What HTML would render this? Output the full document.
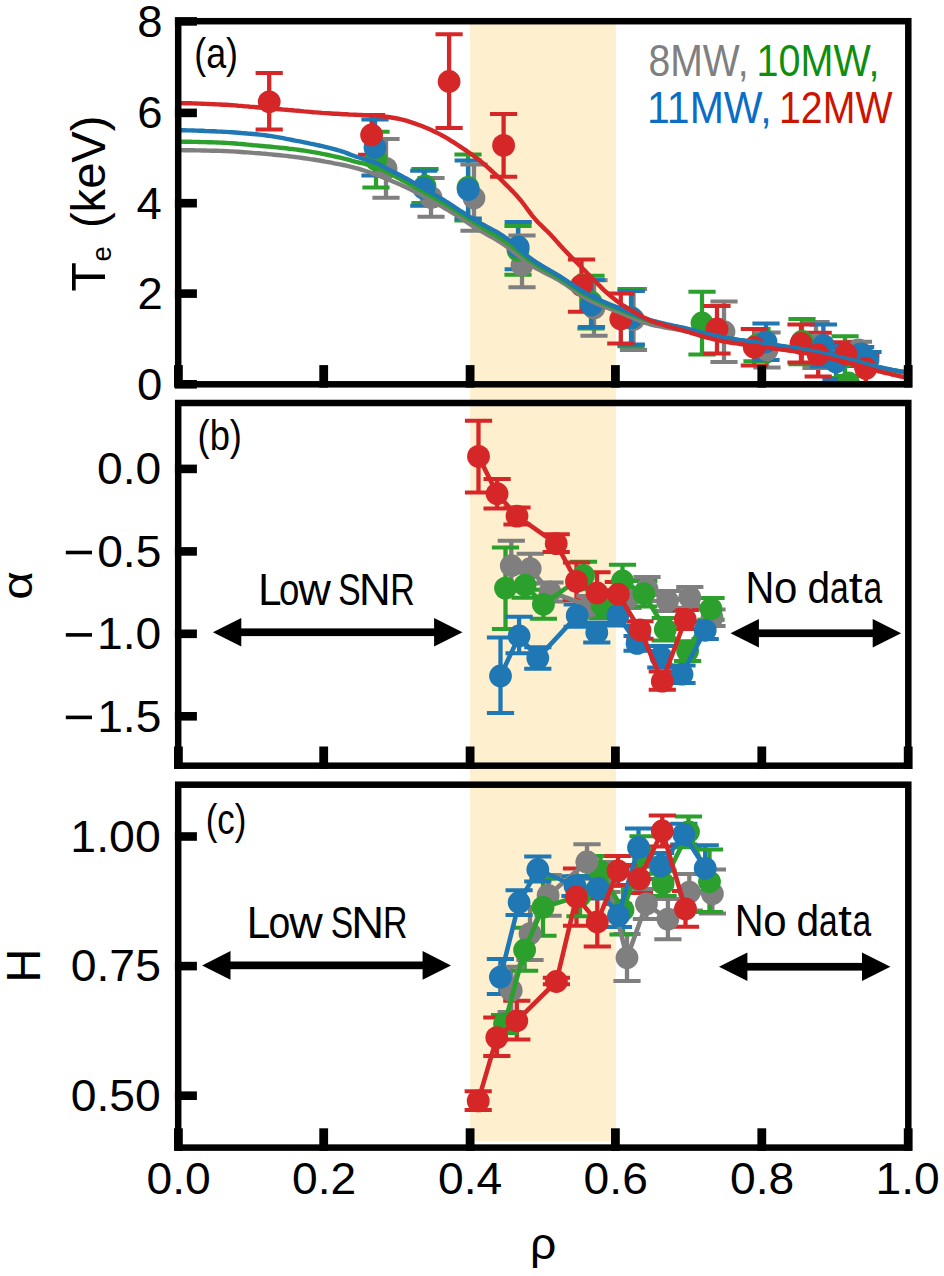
<!DOCTYPE html>
<html><head><meta charset="utf-8"><style>html,body{margin:0;padding:0;background:#fff;}svg{display:block;}</style></head>
<body><svg width="944" height="1276" viewBox="0 0 944 1276">
<rect x="0" y="0" width="944" height="1276" fill="#fff"/>
<rect x="470.1" y="22" width="145.8" height="1119.3" fill="#fef0cf"/>
<defs><clipPath id="cp0"><rect x="178.2" y="21.2" width="730.0999999999999" height="363.1"/></clipPath><clipPath id="cp1"><rect x="178.2" y="403.0" width="730.0999999999999" height="362.70000000000005"/></clipPath><clipPath id="cp2"><rect x="178.2" y="784.7" width="730.0999999999999" height="362.89999999999986"/></clipPath></defs>
<g clip-path="url(#cp0)">
<path d="M386.0 139.0V197.7M431.0 177.9V216.8M474.0 164.5V230.8M522.0 235.4V287.2M594.0 280.3V335.7M633.5 289.0V350.0M724.0 301.4V362.0M767.0 332.4V367.6M816.0 322.0V368.0M858.5 341.7V358.3" stroke="#7f7f7f" stroke-width="4.3" fill="none"/>
<path d="M376.0 131.8V187.4M425.0 169.1V203.0M468.0 154.6V220.4M518.0 225.9V274.8M591.0 275.7V328.5M631.0 289.0V346.3M702.0 291.7V354.4M757.0 329.0V361.3M802.0 319.0V364.2M845.0 336.3V378.0M848.5 376.0V390.0" stroke="#2ca02c" stroke-width="4.3" fill="none"/>
<path d="M375.0 119.4V175.5M423.8 170.7V205.7M468.2 160.4V218.5M518.2 222.1V269.3M591.5 279.9V326.9M631.3 291.0V344.4M766.0 323.6V360.0M823.4 324.6V366.4M836.0 345.0V379.0M860.6 346.9V361.0M868.0 352.0V368.0" stroke="#1f77b4" stroke-width="4.3" fill="none"/>
<path d="M269.2 73.0V129.6M371.6 115.1V154.8M449.1 34.3V128.0M503.6 114.0V176.8M581.5 259.6V311.7M620.8 293.5V343.5M717.0 306.0V353.5M754.3 329.1V365.5M801.0 324.5V362.5M818.2 332.8V376.5M846.0 342.2V366.0M865.8 356.0V384.0" stroke="#d62728" stroke-width="4.3" fill="none"/>
<path d="M372.4 139.0H399.6M372.4 197.7H399.6M417.4 177.9H444.6M417.4 216.8H444.6M460.4 164.5H487.6M460.4 230.8H487.6M508.4 235.4H535.6M508.4 287.2H535.6M580.4 280.3H607.6M580.4 335.7H607.6M619.9 289.0H647.1M619.9 350.0H647.1M710.4 301.4H737.6M710.4 362.0H737.6M753.4 332.4H780.6M753.4 367.6H780.6M802.4 322.0H829.6M802.4 368.0H829.6M844.9 341.7H872.1M844.9 358.3H872.1" stroke="#7f7f7f" stroke-width="4.0" fill="none"/>
<path d="M362.4 131.8H389.6M362.4 187.4H389.6M411.4 169.1H438.6M411.4 203.0H438.6M454.4 154.6H481.6M454.4 220.4H481.6M504.4 225.9H531.6M504.4 274.8H531.6M577.4 275.7H604.6M577.4 328.5H604.6M617.4 289.0H644.6M617.4 346.3H644.6M688.4 291.7H715.6M688.4 354.4H715.6M743.4 329.0H770.6M743.4 361.3H770.6M788.4 319.0H815.6M788.4 364.2H815.6M831.4 336.3H858.6M831.4 378.0H858.6M834.9 376.0H862.1M834.9 390.0H862.1" stroke="#2ca02c" stroke-width="4.0" fill="none"/>
<path d="M361.4 119.4H388.6M361.4 175.5H388.6M410.2 170.7H437.4M410.2 205.7H437.4M454.6 160.4H481.8M454.6 218.5H481.8M504.6 222.1H531.8M504.6 269.3H531.8M577.9 279.9H605.1M577.9 326.9H605.1M617.7 291.0H644.9M617.7 344.4H644.9M752.4 323.6H779.6M752.4 360.0H779.6M809.8 324.6H837.0M809.8 366.4H837.0M822.4 345.0H849.6M822.4 379.0H849.6M847.0 346.9H874.2M847.0 361.0H874.2M854.4 352.0H881.6M854.4 368.0H881.6" stroke="#1f77b4" stroke-width="4.0" fill="none"/>
<path d="M255.6 73.0H282.8M255.6 129.6H282.8M358.0 115.1H385.2M358.0 154.8H385.2M435.5 34.3H462.7M435.5 128.0H462.7M490.0 114.0H517.2M490.0 176.8H517.2M567.9 259.6H595.1M567.9 311.7H595.1M607.2 293.5H634.4M607.2 343.5H634.4M703.4 306.0H730.6M703.4 353.5H730.6M740.7 329.1H767.9M740.7 365.5H767.9M787.4 324.5H814.6M787.4 362.5H814.6M804.6 332.8H831.8M804.6 376.5H831.8M832.4 342.2H859.6M832.4 366.0H859.6M852.2 356.0H879.4M852.2 384.0H879.4" stroke="#d62728" stroke-width="4.0" fill="none"/>
<circle cx="386.0" cy="168.4" r="11.4" fill="#7f7f7f"/>
<circle cx="431.0" cy="197.4" r="11.4" fill="#7f7f7f"/>
<circle cx="474.0" cy="198.0" r="11.4" fill="#7f7f7f"/>
<circle cx="522.0" cy="265.0" r="11.4" fill="#7f7f7f"/>
<circle cx="594.0" cy="308.0" r="11.4" fill="#7f7f7f"/>
<circle cx="633.5" cy="319.5" r="11.4" fill="#7f7f7f"/>
<circle cx="724.0" cy="331.7" r="11.4" fill="#7f7f7f"/>
<circle cx="767.0" cy="350.0" r="11.4" fill="#7f7f7f"/>
<circle cx="816.0" cy="345.0" r="11.4" fill="#7f7f7f"/>
<circle cx="858.5" cy="350.0" r="11.4" fill="#7f7f7f"/>
<circle cx="376.0" cy="159.6" r="11.4" fill="#2ca02c"/>
<circle cx="425.0" cy="186.0" r="11.4" fill="#2ca02c"/>
<circle cx="468.0" cy="187.5" r="11.4" fill="#2ca02c"/>
<circle cx="518.0" cy="250.3" r="11.4" fill="#2ca02c"/>
<circle cx="591.0" cy="302.0" r="11.4" fill="#2ca02c"/>
<circle cx="631.0" cy="317.6" r="11.4" fill="#2ca02c"/>
<circle cx="702.0" cy="323.0" r="11.4" fill="#2ca02c"/>
<circle cx="757.0" cy="345.0" r="11.4" fill="#2ca02c"/>
<circle cx="802.0" cy="341.5" r="11.4" fill="#2ca02c"/>
<circle cx="845.0" cy="357.0" r="11.4" fill="#2ca02c"/>
<circle cx="848.5" cy="383.0" r="11.4" fill="#2ca02c"/>
<circle cx="375.0" cy="147.5" r="11.4" fill="#1f77b4"/>
<circle cx="423.8" cy="188.2" r="11.4" fill="#1f77b4"/>
<circle cx="468.2" cy="189.5" r="11.4" fill="#1f77b4"/>
<circle cx="518.2" cy="247.0" r="11.4" fill="#1f77b4"/>
<circle cx="591.5" cy="305.0" r="11.4" fill="#1f77b4"/>
<circle cx="631.3" cy="317.7" r="11.4" fill="#1f77b4"/>
<circle cx="766.0" cy="341.8" r="11.4" fill="#1f77b4"/>
<circle cx="823.4" cy="345.5" r="11.4" fill="#1f77b4"/>
<circle cx="836.0" cy="362.0" r="11.4" fill="#1f77b4"/>
<circle cx="860.6" cy="353.9" r="11.4" fill="#1f77b4"/>
<circle cx="868.0" cy="360.0" r="11.4" fill="#1f77b4"/>
<circle cx="269.2" cy="101.8" r="11.4" fill="#d62728"/>
<circle cx="371.6" cy="135.0" r="11.4" fill="#d62728"/>
<circle cx="449.1" cy="81.5" r="11.4" fill="#d62728"/>
<circle cx="503.6" cy="145.4" r="11.4" fill="#d62728"/>
<circle cx="581.5" cy="285.5" r="11.4" fill="#d62728"/>
<circle cx="620.8" cy="319.0" r="11.4" fill="#d62728"/>
<circle cx="717.0" cy="329.0" r="11.4" fill="#d62728"/>
<circle cx="754.3" cy="347.3" r="11.4" fill="#d62728"/>
<circle cx="801.0" cy="343.5" r="11.4" fill="#d62728"/>
<circle cx="818.2" cy="354.7" r="11.4" fill="#d62728"/>
<circle cx="846.0" cy="354.0" r="11.4" fill="#d62728"/>
<circle cx="865.8" cy="368.5" r="11.4" fill="#d62728"/>
<g fill="none" stroke-width="4.4" stroke-linejoin="round">
<polyline points="178.2,150.0 181.2,150.1 184.2,150.2 187.2,150.2 190.2,150.3 193.2,150.3 196.2,150.4 199.2,150.4 202.2,150.5 205.2,150.5 208.2,150.6 211.2,150.7 214.2,150.7 217.2,150.8 220.2,150.9 223.2,151.0 226.2,151.1 229.2,151.3 232.2,151.4 235.2,151.6 238.2,151.8 241.2,152.0 244.2,152.2 247.2,152.4 250.2,152.6 253.2,152.9 256.2,153.1 259.2,153.3 262.2,153.6 265.2,153.8 268.2,154.1 271.2,154.4 274.2,154.7 277.2,155.0 280.2,155.3 283.2,155.6 286.2,155.9 289.2,156.3 292.2,156.6 295.2,157.0 298.2,157.4 301.2,157.8 304.2,158.2 307.2,158.6 310.2,159.1 313.2,159.5 316.2,160.0 319.2,160.5 322.2,161.0 325.2,161.6 328.2,162.1 331.2,162.7 334.2,163.3 337.2,163.8 340.2,164.4 343.2,165.0 346.2,165.7 349.2,166.4 352.2,167.1 355.2,167.9 358.2,168.7 361.2,169.6 364.2,170.5 367.2,171.5 370.2,172.5 373.2,173.6 376.2,174.7 379.2,175.9 382.2,177.0 385.2,178.2 388.2,179.5 391.2,180.7 394.2,182.0 397.2,183.3 400.2,184.6 403.2,185.9 406.2,187.3 409.2,188.8 412.2,190.2 415.2,191.8 418.2,193.3 421.2,194.9 424.2,196.5 427.2,198.2 430.2,199.8 433.2,201.5 436.2,203.3 439.2,205.0 442.2,206.7 445.2,208.5 448.2,210.2 451.2,212.0 454.2,213.8 457.2,215.7 460.2,217.7 463.2,219.7 466.2,221.6 469.2,223.6 472.2,225.6 475.2,227.5 478.2,229.4 481.2,231.2 484.2,232.9 487.2,234.6 490.2,236.3 493.2,237.9 496.2,239.7 499.2,241.5 502.2,243.4 505.2,245.5 508.2,247.7 511.2,249.9 514.2,252.2 517.2,254.7 520.2,257.1 523.2,259.5 526.2,261.8 529.2,264.0 532.2,265.9 535.2,267.7 538.2,269.3 541.2,270.9 544.2,272.5 547.2,274.0 550.2,275.5 553.2,277.1 556.2,278.7 559.2,280.4 562.2,282.3 565.2,284.2 568.2,286.3 571.2,288.4 574.2,290.5 577.2,292.6 580.2,294.7 583.2,296.6 586.2,298.4 589.2,300.1 592.2,301.6 595.2,302.9 598.2,304.2 601.2,305.5 604.2,306.6 607.2,307.8 610.2,308.9 613.2,310.0 616.2,311.1 619.2,312.3 622.2,313.5 625.2,314.7 628.2,316.0 631.2,317.3 634.2,318.6 637.2,319.8 640.2,321.0 643.2,322.1 646.2,323.1 649.2,324.0 652.2,324.8 655.2,325.5 658.2,326.1 661.2,326.7 664.2,327.3 667.2,327.8 670.2,328.4 673.2,328.9 676.2,329.4 679.2,329.9 682.2,330.5 685.2,331.0 688.2,331.6 691.2,332.2 694.2,332.8 697.2,333.4 700.2,334.0 703.2,334.6 706.2,335.2 709.2,335.8 712.2,336.3 715.2,336.9 718.2,337.4 721.2,337.9 724.2,338.4 727.2,338.9 730.2,339.3 733.2,339.8 736.2,340.2 739.2,340.6 742.2,341.1 745.2,341.5 748.2,341.9 751.2,342.3 754.2,342.8 757.2,343.2 760.2,343.6 763.2,344.1 766.2,344.5 769.2,344.9 772.2,345.3 775.2,345.7 778.2,346.2 781.2,346.6 784.2,347.0 787.2,347.5 790.2,347.9 793.2,348.4 796.2,348.9 799.2,349.4 802.2,349.9 805.2,350.4 808.2,351.0 811.2,351.6 814.2,352.2 817.2,352.9 820.2,353.5 823.2,354.2 826.2,354.8 829.2,355.5 832.2,356.2 835.2,356.9 838.2,357.6 841.2,358.3 844.2,359.0 847.2,359.7 850.2,360.4 853.2,361.2 856.2,361.9 859.2,362.7 862.2,363.5 865.2,364.3 868.2,365.1 871.2,365.9 874.2,366.7 877.2,367.4 880.2,368.0 883.2,368.7 886.2,369.3 889.2,369.9 892.2,370.5 895.2,371.0 898.2,371.6 901.2,372.1 904.2,372.6 907.2,373.0 908.3,373.2" stroke="#7f7f7f"/>
<polyline points="178.2,141.5 181.2,141.6 184.2,141.7 187.2,141.7 190.2,141.8 193.2,141.9 196.2,141.9 199.2,142.0 202.2,142.1 205.2,142.1 208.2,142.2 211.2,142.3 214.2,142.4 217.2,142.5 220.2,142.6 223.2,142.7 226.2,142.9 229.2,143.1 232.2,143.3 235.2,143.5 238.2,143.8 241.2,144.0 244.2,144.3 247.2,144.6 250.2,144.9 253.2,145.2 256.2,145.4 259.2,145.7 262.2,146.0 265.2,146.3 268.2,146.5 271.2,146.8 274.2,147.1 277.2,147.4 280.2,147.7 283.2,148.0 286.2,148.3 289.2,148.7 292.2,149.0 295.2,149.4 298.2,149.8 301.2,150.2 304.2,150.6 307.2,151.1 310.2,151.6 313.2,152.1 316.2,152.6 319.2,153.2 322.2,153.8 325.2,154.4 328.2,155.0 331.2,155.7 334.2,156.3 337.2,157.0 340.2,157.6 343.2,158.4 346.2,159.1 349.2,159.9 352.2,160.8 355.2,161.6 358.2,162.3 361.2,163.0 364.2,163.7 367.2,164.5 370.2,165.2 373.2,166.1 376.2,167.1 379.2,168.2 382.2,169.5 385.2,171.0 388.2,172.6 391.2,174.2 394.2,175.8 397.2,177.5 400.2,179.1 403.2,180.7 406.2,182.3 409.2,183.9 412.2,185.5 415.2,187.1 418.2,188.8 421.2,190.4 424.2,192.1 427.2,193.8 430.2,195.5 433.2,197.2 436.2,198.9 439.2,200.6 442.2,202.4 445.2,204.2 448.2,205.9 451.2,207.7 454.2,209.6 457.2,211.4 460.2,213.3 463.2,215.2 466.2,217.2 469.2,219.1 472.2,221.0 475.2,223.0 478.2,224.9 481.2,226.7 484.2,228.6 487.2,230.4 490.2,232.1 493.2,233.9 496.2,235.7 499.2,237.5 502.2,239.3 505.2,241.3 508.2,243.3 511.2,245.4 514.2,247.7 517.2,250.2 520.2,252.7 523.2,255.2 526.2,257.7 529.2,259.9 532.2,262.0 535.2,263.9 538.2,265.8 541.2,267.6 544.2,269.3 547.2,271.0 550.2,272.7 553.2,274.4 556.2,276.1 559.2,277.9 562.2,279.8 565.2,281.7 568.2,283.7 571.2,285.7 574.2,287.7 577.2,289.7 580.2,291.7 583.2,293.5 586.2,295.3 589.2,296.9 592.2,298.4 595.2,299.8 598.2,301.1 601.2,302.4 604.2,303.6 607.2,304.8 610.2,306.0 613.2,307.2 616.2,308.3 619.2,309.5 622.2,310.7 625.2,311.9 628.2,313.1 631.2,314.3 634.2,315.5 637.2,316.7 640.2,317.8 643.2,318.8 646.2,319.8 649.2,320.8 652.2,321.6 655.2,322.4 658.2,323.1 661.2,323.9 664.2,324.5 667.2,325.2 670.2,325.8 673.2,326.5 676.2,327.1 679.2,327.7 682.2,328.4 685.2,329.0 688.2,329.7 691.2,330.5 694.2,331.2 697.2,331.9 700.2,332.6 703.2,333.4 706.2,334.1 709.2,334.8 712.2,335.4 715.2,336.1 718.2,336.7 721.2,337.2 724.2,337.7 727.2,338.3 730.2,338.7 733.2,339.2 736.2,339.7 739.2,340.1 742.2,340.5 745.2,341.0 748.2,341.4 751.2,341.8 754.2,342.2 757.2,342.7 760.2,343.1 763.2,343.6 766.2,344.0 769.2,344.4 772.2,344.8 775.2,345.3 778.2,345.7 781.2,346.1 784.2,346.5 787.2,347.0 790.2,347.4 793.2,347.9 796.2,348.4 799.2,348.9 802.2,349.4 805.2,349.9 808.2,350.5 811.2,351.1 814.2,351.7 817.2,352.4 820.2,353.0 823.2,353.7 826.2,354.3 829.2,355.0 832.2,355.7 835.2,356.4 838.2,357.1 841.2,357.8 844.2,358.5 847.2,359.2 850.2,359.9 853.2,360.7 856.2,361.4 859.2,362.2 862.2,363.0 865.2,363.8 868.2,364.6 871.2,365.4 874.2,366.2 877.2,366.9 880.2,367.5 883.2,368.2 886.2,368.8 889.2,369.4 892.2,370.0 895.2,370.5 898.2,371.1 901.2,371.6 904.2,372.1 907.2,372.5 908.3,372.7" stroke="#2ca02c"/>
<polyline points="178.2,130.1 181.2,130.2 184.2,130.3 187.2,130.4 190.2,130.4 193.2,130.5 196.2,130.6 199.2,130.7 202.2,130.8 205.2,131.0 208.2,131.1 211.2,131.2 214.2,131.3 217.2,131.5 220.2,131.6 223.2,131.8 226.2,131.9 229.2,132.1 232.2,132.3 235.2,132.5 238.2,132.7 241.2,133.0 244.2,133.2 247.2,133.5 250.2,133.7 253.2,134.0 256.2,134.3 259.2,134.6 262.2,134.9 265.2,135.3 268.2,135.7 271.2,136.2 274.2,136.7 277.2,137.2 280.2,137.7 283.2,138.2 286.2,138.8 289.2,139.4 292.2,140.0 295.2,140.6 298.2,141.1 301.2,141.7 304.2,142.3 307.2,142.9 310.2,143.6 313.2,144.2 316.2,144.8 319.2,145.5 322.2,146.2 325.2,146.9 328.2,147.6 331.2,148.4 334.2,149.2 337.2,150.0 340.2,150.9 343.2,151.8 346.2,152.9 349.2,154.1 352.2,155.2 355.2,156.3 358.2,157.2 361.2,158.2 364.2,159.0 367.2,159.9 370.2,160.9 373.2,161.9 376.2,163.1 379.2,164.5 382.2,166.0 385.2,167.7 388.2,169.4 391.2,170.9 394.2,172.3 397.2,173.8 400.2,175.3 403.2,176.9 406.2,178.5 409.2,180.2 412.2,181.9 415.2,183.6 418.2,185.4 421.2,187.1 424.2,188.8 427.2,190.5 430.2,192.2 433.2,193.9 436.2,195.7 439.2,197.4 442.2,199.2 445.2,201.0 448.2,202.9 451.2,204.8 454.2,206.8 457.2,208.8 460.2,210.8 463.2,212.7 466.2,214.6 469.2,216.5 472.2,218.4 475.2,220.2 478.2,221.9 481.2,223.7 484.2,225.3 487.2,226.9 490.2,228.5 493.2,230.1 496.2,231.7 499.2,233.5 502.2,235.4 505.2,237.5 508.2,239.6 511.2,241.9 514.2,244.4 517.2,247.1 520.2,249.8 523.2,252.5 526.2,255.0 529.2,257.4 532.2,259.5 535.2,261.6 538.2,263.5 541.2,265.3 544.2,267.1 547.2,268.8 550.2,270.6 553.2,272.3 556.2,274.1 559.2,275.9 562.2,277.8 565.2,279.8 568.2,281.8 571.2,283.8 574.2,285.8 577.2,287.8 580.2,289.8 583.2,291.7 586.2,293.4 589.2,295.1 592.2,296.6 595.2,298.0 598.2,299.4 601.2,300.7 604.2,302.0 607.2,303.3 610.2,304.5 613.2,305.7 616.2,306.9 619.2,308.1 622.2,309.3 625.2,310.6 628.2,311.8 631.2,313.1 634.2,314.3 637.2,315.5 640.2,316.7 643.2,317.8 646.2,318.8 649.2,319.8 652.2,320.6 655.2,321.4 658.2,322.2 661.2,322.9 664.2,323.6 667.2,324.3 670.2,324.9 673.2,325.6 676.2,326.2 679.2,326.9 682.2,327.5 685.2,328.2 688.2,329.0 691.2,329.7 694.2,330.5 697.2,331.3 700.2,332.1 703.2,332.8 706.2,333.6 709.2,334.3 712.2,335.0 715.2,335.7 718.2,336.3 721.2,336.9 724.2,337.5 727.2,338.0 730.2,338.5 733.2,339.0 736.2,339.4 739.2,339.9 742.2,340.3 745.2,340.7 748.2,341.2 751.2,341.6 754.2,342.0 757.2,342.5 760.2,342.9 763.2,343.4 766.2,343.8 769.2,344.2 772.2,344.7 775.2,345.1 778.2,345.5 781.2,345.9 784.2,346.3 787.2,346.8 790.2,347.2 793.2,347.7 796.2,348.2 799.2,348.7 802.2,349.2 805.2,349.7 808.2,350.3 811.2,350.9 814.2,351.5 817.2,352.2 820.2,352.8 823.2,353.5 826.2,354.1 829.2,354.8 832.2,355.5 835.2,356.2 838.2,356.9 841.2,357.6 844.2,358.3 847.2,359.0 850.2,359.7 853.2,360.5 856.2,361.2 859.2,362.0 862.2,362.8 865.2,363.6 868.2,364.4 871.2,365.2 874.2,366.0 877.2,366.7 880.2,367.3 883.2,368.0 886.2,368.6 889.2,369.2 892.2,369.8 895.2,370.3 898.2,370.9 901.2,371.4 904.2,371.9 907.2,372.3 908.3,372.5" stroke="#1f77b4"/>
<polyline points="178.2,103.0 181.2,103.1 184.2,103.2 187.2,103.3 190.2,103.3 193.2,103.4 196.2,103.5 199.2,103.6 202.2,103.7 205.2,103.9 208.2,104.0 211.2,104.1 214.2,104.2 217.2,104.4 220.2,104.5 223.2,104.7 226.2,104.8 229.2,105.0 232.2,105.2 235.2,105.4 238.2,105.7 241.2,105.9 244.2,106.2 247.2,106.4 250.2,106.7 253.2,106.9 256.2,107.2 259.2,107.5 262.2,107.7 265.2,108.0 268.2,108.3 271.2,108.5 274.2,108.8 277.2,109.1 280.2,109.3 283.2,109.6 286.2,109.8 289.2,110.1 292.2,110.3 295.2,110.6 298.2,110.8 301.2,111.1 304.2,111.4 307.2,111.6 310.2,111.9 313.2,112.2 316.2,112.4 319.2,112.6 322.2,112.9 325.2,113.1 328.2,113.3 331.2,113.5 334.2,113.7 337.2,113.8 340.2,114.0 343.2,114.2 346.2,114.3 349.2,114.5 352.2,114.6 355.2,114.7 358.2,114.9 361.2,115.0 364.2,115.1 367.2,115.3 370.2,115.4 373.2,115.6 376.2,115.8 379.2,116.0 382.2,116.3 385.2,116.6 388.2,117.0 391.2,117.5 394.2,118.0 397.2,118.5 400.2,119.1 403.2,119.8 406.2,120.7 409.2,121.6 412.2,122.6 415.2,123.6 418.2,124.7 421.2,125.8 424.2,127.0 427.2,128.3 430.2,129.6 433.2,131.0 436.2,132.4 439.2,133.9 442.2,135.5 445.2,137.2 448.2,138.9 451.2,140.8 454.2,142.7 457.2,144.7 460.2,146.6 463.2,148.6 466.2,150.6 469.2,152.7 472.2,154.8 475.2,157.0 478.2,159.3 481.2,161.7 484.2,164.2 487.2,166.8 490.2,169.5 493.2,172.3 496.2,175.1 499.2,178.0 502.2,180.9 505.2,183.9 508.2,186.8 511.2,189.9 514.2,193.1 517.2,196.3 520.2,199.7 523.2,203.5 526.2,207.5 529.2,211.6 532.2,215.6 535.2,219.2 538.2,222.5 541.2,225.4 544.2,228.3 547.2,231.3 550.2,234.3 553.2,237.5 556.2,240.9 559.2,244.3 562.2,247.6 565.2,250.8 568.2,253.9 571.2,257.0 574.2,260.0 577.2,263.0 580.2,266.0 583.2,269.1 586.2,272.1 589.2,275.2 592.2,278.2 595.2,281.3 598.2,284.4 601.2,287.4 604.2,290.3 607.2,293.0 610.2,295.6 613.2,298.1 616.2,300.5 619.2,302.7 622.2,304.8 625.2,306.7 628.2,308.6 631.2,310.3 634.2,312.0 637.2,313.7 640.2,315.4 643.2,317.1 646.2,318.6 649.2,320.0 652.2,321.2 655.2,322.3 658.2,323.3 661.2,324.2 664.2,325.2 667.2,326.0 670.2,326.9 673.2,327.7 676.2,328.5 679.2,329.4 682.2,330.2 685.2,331.1 688.2,331.9 691.2,332.8 694.2,333.8 697.2,334.7 700.2,335.6 703.2,336.5 706.2,337.3 709.2,338.2 712.2,338.9 715.2,339.7 718.2,340.3 721.2,340.9 724.2,341.5 727.2,342.0 730.2,342.5 733.2,343.0 736.2,343.4 739.2,343.8 742.2,344.3 745.2,344.7 748.2,345.1 751.2,345.5 754.2,345.9 757.2,346.3 760.2,346.7 763.2,347.1 766.2,347.6 769.2,347.9 772.2,348.3 775.2,348.7 778.2,349.1 781.2,349.5 784.2,349.9 787.2,350.3 790.2,350.7 793.2,351.1 796.2,351.6 799.2,352.1 802.2,352.6 805.2,353.1 808.2,353.7 811.2,354.3 814.2,354.9 817.2,355.5 820.2,356.1 823.2,356.8 826.2,357.5 829.2,358.2 832.2,358.9 835.2,359.6 838.2,360.3 841.2,361.0 844.2,361.8 847.2,362.5 850.2,363.2 853.2,364.0 856.2,364.8 859.2,365.7 862.2,366.5 865.2,367.4 868.2,368.3 871.2,369.1 874.2,370.0 877.2,370.8 880.2,371.6 883.2,372.3 886.2,373.0 889.2,373.7 892.2,374.5 895.2,375.1 898.2,375.8 901.2,376.5 904.2,377.1 907.2,377.8 908.3,378.0" stroke="#d62728"/>
</g>
</g>
<g clip-path="url(#cp1)">
<path d="M511.3 540.7V590.7M530.2 553.8V583.6M550.0 582.4V601.6M590.0 596.0V616.0M609.0 590.0V610.0M628.0 588.0V608.0M647.0 577.1V601.0M667.5 591.0V611.0M689.8 586.9V607.7M712.0 609.4V625.9" stroke="#7f7f7f" stroke-width="4.3" fill="none"/>
<path d="M505.5 547.4V629.0M525.1 572.4V597.8M543.4 589.8V618.8M583.5 561.7V589.3M602.0 592.0V618.0M622.5 564.8V597.2M643.8 581.0V606.4M665.3 618.0V640.6M687.6 641.2V661.0M711.0 597.9V619.7" stroke="#2ca02c" stroke-width="4.3" fill="none"/>
<path d="M500.5 637.5V712.9M519.1 616.7V653.3M537.8 647.2V668.8M577.2 604.5V626.7M596.8 622.5V642.4M617.8 605.0V625.6M637.1 636.0V650.8M660.8 646.0V667.6M682.0 665.4V683.0M705.2 621.6V639.0" stroke="#1f77b4" stroke-width="4.3" fill="none"/>
<path d="M478.5 420.7V492.4M497.1 479.0V508.5M517.0 507.6V524.6M556.2 534.3V551.9M576.5 562.5V600.3M597.0 572.2V613.8M618.3 581.9V606.5M640.0 621.2V638.8M662.3 671.6V689.7M685.3 610.0V629.0" stroke="#d62728" stroke-width="4.3" fill="none"/>
<path d="M497.7 540.7H524.9M497.7 590.7H524.9M516.6 553.8H543.8M516.6 583.6H543.8M536.4 582.4H563.6M536.4 601.6H563.6M576.4 596.0H603.6M576.4 616.0H603.6M595.4 590.0H622.6M595.4 610.0H622.6M614.4 588.0H641.6M614.4 608.0H641.6M633.4 577.1H660.6M633.4 601.0H660.6M653.9 591.0H681.1M653.9 611.0H681.1M676.2 586.9H703.4M676.2 607.7H703.4M698.4 609.4H725.6M698.4 625.9H725.6" stroke="#7f7f7f" stroke-width="4.0" fill="none"/>
<path d="M491.9 547.4H519.1M491.9 629.0H519.1M511.5 572.4H538.7M511.5 597.8H538.7M529.8 589.8H557.0M529.8 618.8H557.0M569.9 561.7H597.1M569.9 589.3H597.1M588.4 592.0H615.6M588.4 618.0H615.6M608.9 564.8H636.1M608.9 597.2H636.1M630.2 581.0H657.4M630.2 606.4H657.4M651.7 618.0H678.9M651.7 640.6H678.9M674.0 641.2H701.2M674.0 661.0H701.2M697.4 597.9H724.6M697.4 619.7H724.6" stroke="#2ca02c" stroke-width="4.0" fill="none"/>
<path d="M486.9 637.5H514.1M486.9 712.9H514.1M505.5 616.7H532.7M505.5 653.3H532.7M524.2 647.2H551.4M524.2 668.8H551.4M563.6 604.5H590.8M563.6 626.7H590.8M583.2 622.5H610.4M583.2 642.4H610.4M604.2 605.0H631.4M604.2 625.6H631.4M623.5 636.0H650.7M623.5 650.8H650.7M647.2 646.0H674.4M647.2 667.6H674.4M668.4 665.4H695.6M668.4 683.0H695.6M691.6 621.6H718.8M691.6 639.0H718.8" stroke="#1f77b4" stroke-width="4.0" fill="none"/>
<path d="M464.9 420.7H492.1M464.9 492.4H492.1M483.5 479.0H510.7M483.5 508.5H510.7M503.4 507.6H530.6M503.4 524.6H530.6M542.6 534.3H569.8M542.6 551.9H569.8M562.9 562.5H590.1M562.9 600.3H590.1M583.4 572.2H610.6M583.4 613.8H610.6M604.7 581.9H631.9M604.7 606.5H631.9M626.4 621.2H653.6M626.4 638.8H653.6M648.7 671.6H675.9M648.7 689.7H675.9M671.7 610.0H698.9M671.7 629.0H698.9" stroke="#d62728" stroke-width="4.0" fill="none"/>
<polyline points="511.3,565.7 530.2,568.7 550.0,592.0 590.0,606.0 609.0,600.0 628.0,598.0 647.0,589.0 667.5,601.0 689.8,597.3 712.0,617.6" stroke="#7f7f7f" stroke-width="4.6" fill="none" stroke-linejoin="round"/>
<circle cx="511.3" cy="565.7" r="11.4" fill="#7f7f7f"/>
<circle cx="530.2" cy="568.7" r="11.4" fill="#7f7f7f"/>
<circle cx="550.0" cy="592.0" r="11.4" fill="#7f7f7f"/>
<circle cx="590.0" cy="606.0" r="11.4" fill="#7f7f7f"/>
<circle cx="609.0" cy="600.0" r="11.4" fill="#7f7f7f"/>
<circle cx="628.0" cy="598.0" r="11.4" fill="#7f7f7f"/>
<circle cx="647.0" cy="589.0" r="11.4" fill="#7f7f7f"/>
<circle cx="667.5" cy="601.0" r="11.4" fill="#7f7f7f"/>
<circle cx="689.8" cy="597.3" r="11.4" fill="#7f7f7f"/>
<circle cx="712.0" cy="617.6" r="11.4" fill="#7f7f7f"/>
<polyline points="505.5,588.1 525.1,585.1 543.4,604.3 583.5,575.5 602.0,605.0 622.5,581.0 643.8,593.7 665.3,629.3 687.6,651.1 711.0,608.8" stroke="#2ca02c" stroke-width="4.6" fill="none" stroke-linejoin="round"/>
<circle cx="505.5" cy="588.1" r="11.4" fill="#2ca02c"/>
<circle cx="525.1" cy="585.1" r="11.4" fill="#2ca02c"/>
<circle cx="543.4" cy="604.3" r="11.4" fill="#2ca02c"/>
<circle cx="583.5" cy="575.5" r="11.4" fill="#2ca02c"/>
<circle cx="602.0" cy="605.0" r="11.4" fill="#2ca02c"/>
<circle cx="622.5" cy="581.0" r="11.4" fill="#2ca02c"/>
<circle cx="643.8" cy="593.7" r="11.4" fill="#2ca02c"/>
<circle cx="665.3" cy="629.3" r="11.4" fill="#2ca02c"/>
<circle cx="687.6" cy="651.1" r="11.4" fill="#2ca02c"/>
<circle cx="711.0" cy="608.8" r="11.4" fill="#2ca02c"/>
<polyline points="500.5,676.0 519.1,636.0 537.8,658.1 577.2,615.6 596.8,632.5 617.8,615.3 637.1,643.4 660.8,656.8 682.0,674.2 705.2,630.3" stroke="#1f77b4" stroke-width="4.6" fill="none" stroke-linejoin="round"/>
<circle cx="500.5" cy="676.0" r="11.4" fill="#1f77b4"/>
<circle cx="519.1" cy="636.0" r="11.4" fill="#1f77b4"/>
<circle cx="537.8" cy="658.1" r="11.4" fill="#1f77b4"/>
<circle cx="577.2" cy="615.6" r="11.4" fill="#1f77b4"/>
<circle cx="596.8" cy="632.5" r="11.4" fill="#1f77b4"/>
<circle cx="617.8" cy="615.3" r="11.4" fill="#1f77b4"/>
<circle cx="637.1" cy="643.4" r="11.4" fill="#1f77b4"/>
<circle cx="660.8" cy="656.8" r="11.4" fill="#1f77b4"/>
<circle cx="682.0" cy="674.2" r="11.4" fill="#1f77b4"/>
<circle cx="705.2" cy="630.3" r="11.4" fill="#1f77b4"/>
<polyline points="478.5,456.4 497.1,493.7 517.0,516.1 556.2,543.6 576.5,581.4 597.0,593.0 618.3,594.2 640.0,630.0 662.3,681.2 685.3,619.5" stroke="#d62728" stroke-width="4.6" fill="none" stroke-linejoin="round"/>
<circle cx="478.5" cy="456.4" r="11.4" fill="#d62728"/>
<circle cx="497.1" cy="493.7" r="11.4" fill="#d62728"/>
<circle cx="517.0" cy="516.1" r="11.4" fill="#d62728"/>
<circle cx="556.2" cy="543.6" r="11.4" fill="#d62728"/>
<circle cx="576.5" cy="581.4" r="11.4" fill="#d62728"/>
<circle cx="597.0" cy="593.0" r="11.4" fill="#d62728"/>
<circle cx="618.3" cy="594.2" r="11.4" fill="#d62728"/>
<circle cx="640.0" cy="630.0" r="11.4" fill="#d62728"/>
<circle cx="662.3" cy="681.2" r="11.4" fill="#d62728"/>
<circle cx="685.3" cy="619.5" r="11.4" fill="#d62728"/>
</g>
<g clip-path="url(#cp2)">
<path d="M511.2 966.7V1011.9M530.0 907.0V959.9M548.1 875.0V915.8M587.0 844.3V878.7M607.0 862.0V892.0M627.0 934.0V981.0M646.4 889.0V919.1M667.9 899.0V939.2M689.3 873.9V910.5M712.4 869.6V913.6" stroke="#7f7f7f" stroke-width="4.3" fill="none"/>
<path d="M504.5 1014.9V1033.1M524.6 927.7V970.8M543.0 878.8V935.8M580.0 876.0V916.3M600.5 856.0V886.3M623.0 886.0V934.6M643.0 836.2V873.8M663.1 870.7V896.1M688.5 816.4V847.2M709.5 849.6V912.0" stroke="#2ca02c" stroke-width="4.3" fill="none"/>
<path d="M500.4 959.0V994.1M519.1 890.3V914.9M537.8 856.4V881.4M575.0 876.2V896.0M597.9 878.0V898.4M618.5 904.0V927.0M638.5 828.6V866.4M660.7 853.0V879.0M683.8 823.8V844.6M705.2 845.3V891.3" stroke="#1f77b4" stroke-width="4.3" fill="none"/>
<path d="M478.2 1091.3V1110.1M496.8 1017.4V1056.0M516.8 1000.8V1039.4M556.4 977.8V984.2M576.5 868.5V925.8M597.3 897.5V946.6M618.0 856.0V885.0M639.5 865.0V893.0M662.3 815.6V846.4M685.5 891.0V926.8" stroke="#d62728" stroke-width="4.3" fill="none"/>
<path d="M497.6 966.7H524.8M497.6 1011.9H524.8M516.4 907.0H543.6M516.4 959.9H543.6M534.5 875.0H561.7M534.5 915.8H561.7M573.4 844.3H600.6M573.4 878.7H600.6M593.4 862.0H620.6M593.4 892.0H620.6M613.4 934.0H640.6M613.4 981.0H640.6M632.8 889.0H660.0M632.8 919.1H660.0M654.3 899.0H681.5M654.3 939.2H681.5M675.7 873.9H702.9M675.7 910.5H702.9M698.8 869.6H726.0M698.8 913.6H726.0" stroke="#7f7f7f" stroke-width="4.0" fill="none"/>
<path d="M490.9 1014.9H518.1M490.9 1033.1H518.1M511.0 927.7H538.2M511.0 970.8H538.2M529.4 878.8H556.6M529.4 935.8H556.6M566.4 876.0H593.6M566.4 916.3H593.6M586.9 856.0H614.1M586.9 886.3H614.1M609.4 886.0H636.6M609.4 934.6H636.6M629.4 836.2H656.6M629.4 873.8H656.6M649.5 870.7H676.7M649.5 896.1H676.7M674.9 816.4H702.1M674.9 847.2H702.1M695.9 849.6H723.1M695.9 912.0H723.1" stroke="#2ca02c" stroke-width="4.0" fill="none"/>
<path d="M486.8 959.0H514.0M486.8 994.1H514.0M505.5 890.3H532.7M505.5 914.9H532.7M524.2 856.4H551.4M524.2 881.4H551.4M561.4 876.2H588.6M561.4 896.0H588.6M584.3 878.0H611.5M584.3 898.4H611.5M604.9 904.0H632.1M604.9 927.0H632.1M624.9 828.6H652.1M624.9 866.4H652.1M647.1 853.0H674.3M647.1 879.0H674.3M670.2 823.8H697.4M670.2 844.6H697.4M691.6 845.3H718.8M691.6 891.3H718.8" stroke="#1f77b4" stroke-width="4.0" fill="none"/>
<path d="M464.6 1091.3H491.8M464.6 1110.1H491.8M483.2 1017.4H510.4M483.2 1056.0H510.4M503.2 1000.8H530.4M503.2 1039.4H530.4M542.8 977.8H570.0M542.8 984.2H570.0M562.9 868.5H590.1M562.9 925.8H590.1M583.7 897.5H610.9M583.7 946.6H610.9M604.4 856.0H631.6M604.4 885.0H631.6M625.9 865.0H653.1M625.9 893.0H653.1M648.7 815.6H675.9M648.7 846.4H675.9M671.9 891.0H699.1M671.9 926.8H699.1" stroke="#d62728" stroke-width="4.0" fill="none"/>
<polyline points="511.2,990.4 530.0,933.6 548.1,895.4 587.0,862.0 607.0,877.0 627.0,957.7 646.4,904.0 667.9,919.1 689.3,892.2 712.4,893.8" stroke="#7f7f7f" stroke-width="4.6" fill="none" stroke-linejoin="round"/>
<circle cx="511.2" cy="990.4" r="11.4" fill="#7f7f7f"/>
<circle cx="530.0" cy="933.6" r="11.4" fill="#7f7f7f"/>
<circle cx="548.1" cy="895.4" r="11.4" fill="#7f7f7f"/>
<circle cx="587.0" cy="862.0" r="11.4" fill="#7f7f7f"/>
<circle cx="607.0" cy="877.0" r="11.4" fill="#7f7f7f"/>
<circle cx="627.0" cy="957.7" r="11.4" fill="#7f7f7f"/>
<circle cx="646.4" cy="904.0" r="11.4" fill="#7f7f7f"/>
<circle cx="667.9" cy="919.1" r="11.4" fill="#7f7f7f"/>
<circle cx="689.3" cy="892.2" r="11.4" fill="#7f7f7f"/>
<circle cx="712.4" cy="893.8" r="11.4" fill="#7f7f7f"/>
<polyline points="504.5,1024.0 524.6,950.0 543.0,907.3 580.0,896.0 600.5,871.5 623.0,910.0 643.0,855.0 663.1,883.4 688.5,831.8 709.5,881.8" stroke="#2ca02c" stroke-width="4.6" fill="none" stroke-linejoin="round"/>
<circle cx="504.5" cy="1024.0" r="11.4" fill="#2ca02c"/>
<circle cx="524.6" cy="950.0" r="11.4" fill="#2ca02c"/>
<circle cx="543.0" cy="907.3" r="11.4" fill="#2ca02c"/>
<circle cx="580.0" cy="896.0" r="11.4" fill="#2ca02c"/>
<circle cx="600.5" cy="871.5" r="11.4" fill="#2ca02c"/>
<circle cx="623.0" cy="910.0" r="11.4" fill="#2ca02c"/>
<circle cx="643.0" cy="855.0" r="11.4" fill="#2ca02c"/>
<circle cx="663.1" cy="883.4" r="11.4" fill="#2ca02c"/>
<circle cx="688.5" cy="831.8" r="11.4" fill="#2ca02c"/>
<circle cx="709.5" cy="881.8" r="11.4" fill="#2ca02c"/>
<polyline points="500.4,977.1 519.1,902.5 537.8,869.5 575.0,886.0 597.9,888.2 618.5,915.5 638.5,847.5 660.7,866.0 683.8,834.2 705.2,868.3" stroke="#1f77b4" stroke-width="4.6" fill="none" stroke-linejoin="round"/>
<circle cx="500.4" cy="977.1" r="11.4" fill="#1f77b4"/>
<circle cx="519.1" cy="902.5" r="11.4" fill="#1f77b4"/>
<circle cx="537.8" cy="869.5" r="11.4" fill="#1f77b4"/>
<circle cx="575.0" cy="886.0" r="11.4" fill="#1f77b4"/>
<circle cx="597.9" cy="888.2" r="11.4" fill="#1f77b4"/>
<circle cx="618.5" cy="915.5" r="11.4" fill="#1f77b4"/>
<circle cx="638.5" cy="847.5" r="11.4" fill="#1f77b4"/>
<circle cx="660.7" cy="866.0" r="11.4" fill="#1f77b4"/>
<circle cx="683.8" cy="834.2" r="11.4" fill="#1f77b4"/>
<circle cx="705.2" cy="868.3" r="11.4" fill="#1f77b4"/>
<polyline points="478.2,1100.9 496.8,1037.6 516.8,1020.8 556.4,981.5 576.5,896.9 597.3,922.0 618.0,870.8 639.5,879.0 662.3,831.0 685.5,908.9" stroke="#d62728" stroke-width="4.6" fill="none" stroke-linejoin="round"/>
<circle cx="478.2" cy="1100.9" r="11.4" fill="#d62728"/>
<circle cx="496.8" cy="1037.6" r="11.4" fill="#d62728"/>
<circle cx="516.8" cy="1020.8" r="11.4" fill="#d62728"/>
<circle cx="556.4" cy="981.5" r="11.4" fill="#d62728"/>
<circle cx="576.5" cy="896.9" r="11.4" fill="#d62728"/>
<circle cx="597.3" cy="922.0" r="11.4" fill="#d62728"/>
<circle cx="618.0" cy="870.8" r="11.4" fill="#d62728"/>
<circle cx="639.5" cy="879.0" r="11.4" fill="#d62728"/>
<circle cx="662.3" cy="831.0" r="11.4" fill="#d62728"/>
<circle cx="685.5" cy="908.9" r="11.4" fill="#d62728"/>
<circle cx="587" cy="862" r="11.4" fill="#7f7f7f"/>
</g>
<rect x="178.2" y="21.2" width="730.0999999999999" height="363.1" fill="none" stroke="#000" stroke-width="6.5"/>
<rect x="174.0" y="365.1" width="8.8" height="22.5" fill="#000"/>
<rect x="319.3" y="365.1" width="8.8" height="22.5" fill="#000"/>
<rect x="465.7" y="365.1" width="8.8" height="22.5" fill="#000"/>
<rect x="611.0" y="365.1" width="8.8" height="22.5" fill="#000"/>
<rect x="757.4" y="365.1" width="8.8" height="22.5" fill="#000"/>
<rect x="903.8" y="365.1" width="8.8" height="22.5" fill="#000"/>
<rect x="174.9" y="17.1" width="22" height="8.6" fill="#000"/>
<rect x="174.9" y="108.6" width="22" height="8.6" fill="#000"/>
<rect x="174.9" y="198.9" width="22" height="8.6" fill="#000"/>
<rect x="174.9" y="289.3" width="22" height="8.6" fill="#000"/>
<rect x="174.9" y="380.0" width="22" height="8.6" fill="#000"/>
<rect x="178.2" y="403.0" width="730.0999999999999" height="362.70000000000005" fill="none" stroke="#000" stroke-width="6.5"/>
<rect x="174.0" y="746.5" width="8.8" height="22.5" fill="#000"/>
<rect x="319.3" y="746.5" width="8.8" height="22.5" fill="#000"/>
<rect x="465.7" y="746.5" width="8.8" height="22.5" fill="#000"/>
<rect x="611.0" y="746.5" width="8.8" height="22.5" fill="#000"/>
<rect x="757.4" y="746.5" width="8.8" height="22.5" fill="#000"/>
<rect x="903.8" y="746.5" width="8.8" height="22.5" fill="#000"/>
<rect x="174.9" y="464.6" width="22" height="8.6" fill="#000"/>
<rect x="174.9" y="547.1" width="22" height="8.6" fill="#000"/>
<rect x="174.9" y="629.5" width="22" height="8.6" fill="#000"/>
<rect x="174.9" y="712.0" width="22" height="8.6" fill="#000"/>
<rect x="178.2" y="784.7" width="730.0999999999999" height="362.89999999999986" fill="none" stroke="#000" stroke-width="6.5"/>
<rect x="174.0" y="1128.3" width="8.8" height="22.5" fill="#000"/>
<rect x="319.3" y="1128.3" width="8.8" height="22.5" fill="#000"/>
<rect x="465.7" y="1128.3" width="8.8" height="22.5" fill="#000"/>
<rect x="611.0" y="1128.3" width="8.8" height="22.5" fill="#000"/>
<rect x="757.4" y="1128.3" width="8.8" height="22.5" fill="#000"/>
<rect x="903.8" y="1128.3" width="8.8" height="22.5" fill="#000"/>
<rect x="174.9" y="832.2" width="22" height="8.6" fill="#000"/>
<rect x="174.9" y="961.8" width="22" height="8.6" fill="#000"/>
<rect x="174.9" y="1091.4" width="22" height="8.6" fill="#000"/>
<rect x="240.3" y="628.4" width="194.8" height="7.7" fill="#000"/>
<path d="M212.9 632.2L241.3 617.9000000000001L241.3 646.5Z M462.5 632.2L434.1 617.9000000000001L434.1 646.5Z" fill="#000"/>
<rect x="757.9" y="629.4" width="115.8" height="7.7" fill="#000"/>
<path d="M730.5 633.2L758.9 618.9000000000001L758.9 647.5Z M901.1 633.2L872.7 618.9000000000001L872.7 647.5Z" fill="#000"/>
<rect x="229.5" y="961.5" width="194.1" height="7.7" fill="#000"/>
<path d="M202.1 965.4L230.5 951.1L230.5 979.6999999999999Z M451.0 965.4L422.6 951.1L422.6 979.6999999999999Z" fill="#000"/>
<rect x="746.4" y="962.9" width="116.6" height="7.7" fill="#000"/>
<path d="M719.0 966.8L747.4 952.5L747.4 981.0999999999999Z M890.4 966.8L862.0 952.5L862.0 981.0999999999999Z" fill="#000"/>
<g font-family='"Liberation Sans", sans-serif'>
<text transform="translate(137.18,36.65) scale(1.0450,1)" font-size="43.5" fill="#000">8</text>
<text transform="translate(137.23,128.20) scale(1.0450,1)" font-size="43.5" fill="#000">6</text>
<text transform="translate(136.54,218.50) scale(1.0450,1)" font-size="43.5" fill="#000">4</text>
<text transform="translate(137.50,308.90) scale(1.0450,1)" font-size="43.5" fill="#000">2</text>
<text transform="translate(137.00,399.60) scale(1.0450,1)" font-size="43.5" fill="#000">0</text>
<text transform="translate(96.99,484.20) scale(1.0620,1)" font-size="43.5" fill="#000">0.0</text>
<text transform="translate(97.13,566.70) scale(1.0620,1)" font-size="43.5" fill="#000">0.5</text>
<rect x="65.8" y="550.7" width="26.2" height="3.6" fill="#000"/>
<text transform="translate(96.99,649.10) scale(1.0620,1)" font-size="43.5" fill="#000">1.0</text>
<rect x="65.8" y="633.1" width="26.2" height="3.6" fill="#000"/>
<text transform="translate(97.13,731.60) scale(1.0620,1)" font-size="43.5" fill="#000">1.5</text>
<rect x="65.8" y="715.6" width="26.2" height="3.6" fill="#000"/>
<text transform="translate(70.37,851.80) scale(1.0684,1)" font-size="43.5" fill="#000">1.00</text>
<text transform="translate(70.69,981.40) scale(1.0662,1)" font-size="43.5" fill="#000">0.75</text>
<text transform="translate(70.69,1111.00) scale(1.0645,1)" font-size="43.5" fill="#000">0.50</text>
<text transform="translate(146.49,1194.00) scale(1.0620,1)" font-size="43.5" fill="#000">0.0</text>
<text transform="translate(292.05,1194.00) scale(1.0620,1)" font-size="43.5" fill="#000">0.2</text>
<text transform="translate(437.96,1194.00) scale(1.0620,1)" font-size="43.5" fill="#000">0.4</text>
<text transform="translate(583.61,1194.00) scale(1.0620,1)" font-size="43.5" fill="#000">0.6</text>
<text transform="translate(729.99,1194.00) scale(1.0620,1)" font-size="43.5" fill="#000">0.8</text>
<text transform="translate(875.44,1194.00) scale(1.0620,1)" font-size="43.5" fill="#000">1.0</text>
<text transform="translate(194.28,67.60) scale(0.8343,1)" font-size="42.9" fill="#000">(a)</text>
<text transform="translate(197.55,449.70) scale(0.8471,1)" font-size="42.9" fill="#000">(b)</text>
<text transform="translate(205.63,833.80) scale(0.8143,1)" font-size="42.9" fill="#000">(c)</text>
<text transform="translate(258.18,604.80) scale(0.9313,1)" font-size="44.8" fill="#000">L</text>
<text transform="translate(278.96,604.80) scale(0.8181,1)" font-size="44.8" fill="#000">o</text>
<text transform="translate(298.54,604.80) scale(1.0006,1)" font-size="44.8" fill="#000">w</text>
<text transform="translate(338.14,604.80) scale(0.7500,1)" font-size="44.8" fill="#000">S</text>
<text transform="translate(358.91,604.80) scale(0.9783,1)" font-size="44.8" fill="#000">N</text>
<text transform="translate(390.32,604.80) scale(0.7566,1)" font-size="44.8" fill="#000">R</text>
<text transform="translate(745.43,603.00) scale(0.8905,1)" font-size="44.8" fill="#000">N</text>
<text transform="translate(774.04,603.00) scale(0.9364,1)" font-size="44.8" fill="#000">o</text>
<text transform="translate(807.39,603.00) scale(0.9077,1)" font-size="44.8" fill="#000">d</text>
<text transform="translate(830.10,603.00) scale(0.7500,1)" font-size="44.8" fill="#000">a</text>
<text transform="translate(848.87,603.00) scale(1.1200,1)" font-size="44.8" fill="#000">t</text>
<text transform="translate(863.40,603.00) scale(0.7500,1)" font-size="44.8" fill="#000">a</text>
<text transform="translate(246.74,937.60) scale(0.9414,1)" font-size="44.8" fill="#000">L</text>
<text transform="translate(268.55,937.60) scale(0.8749,1)" font-size="44.8" fill="#000">o</text>
<text transform="translate(289.25,937.60) scale(1.0345,1)" font-size="44.8" fill="#000">w</text>
<text transform="translate(330.84,937.60) scale(0.7500,1)" font-size="44.8" fill="#000">S</text>
<text transform="translate(351.37,937.60) scale(1.0142,1)" font-size="44.8" fill="#000">N</text>
<text transform="translate(382.92,937.60) scale(0.7566,1)" font-size="44.8" fill="#000">R</text>
<text transform="translate(734.63,936.10) scale(0.8905,1)" font-size="44.8" fill="#000">N</text>
<text transform="translate(763.24,936.10) scale(0.9364,1)" font-size="44.8" fill="#000">o</text>
<text transform="translate(796.59,936.10) scale(0.9077,1)" font-size="44.8" fill="#000">d</text>
<text transform="translate(818.90,936.10) scale(0.7500,1)" font-size="44.8" fill="#000">a</text>
<text transform="translate(838.07,936.10) scale(1.1200,1)" font-size="44.8" fill="#000">t</text>
<text transform="translate(852.60,936.10) scale(0.7500,1)" font-size="44.8" fill="#000">a</text>
<text transform="translate(648.52,75.50) scale(0.8852,1)" font-size="44.2" fill="#808080">8MW,</text>
<text transform="translate(756.60,75.50) scale(0.8939,1)" font-size="44.2" fill="#0e8e0e">10MW,</text>
<text transform="translate(647.08,122.70) scale(0.9280,1)" font-size="44.2" fill="#0b6dc3">11MW,</text>
<text transform="translate(779.01,122.70) scale(0.8892,1)" font-size="44.2" fill="#cc1500">12MW</text>
<text transform="translate(530.04,1258.80) scale(1.0252,1)" font-size="45.1" fill="#000">ρ</text>
<text transform="translate(104.80,291.56) rotate(-90) scale(1.0000,1)" font-size="48.1">T</text>
<text transform="translate(111.10,261.45) rotate(-90) scale(0.9900,1)" font-size="27.7">e</text>
<text transform="translate(104.80,228.12) rotate(-90) scale(0.9800,1)" font-size="48.1">(keV)</text>
<text transform="translate(31.97,599.78) rotate(-90) scale(1.1410,1)" font-size="43.4">α</text>
<text transform="translate(39.70,982.43) rotate(-90) scale(0.9650,1)" font-size="48.4">H</text>
</g>
</svg></body></html>
